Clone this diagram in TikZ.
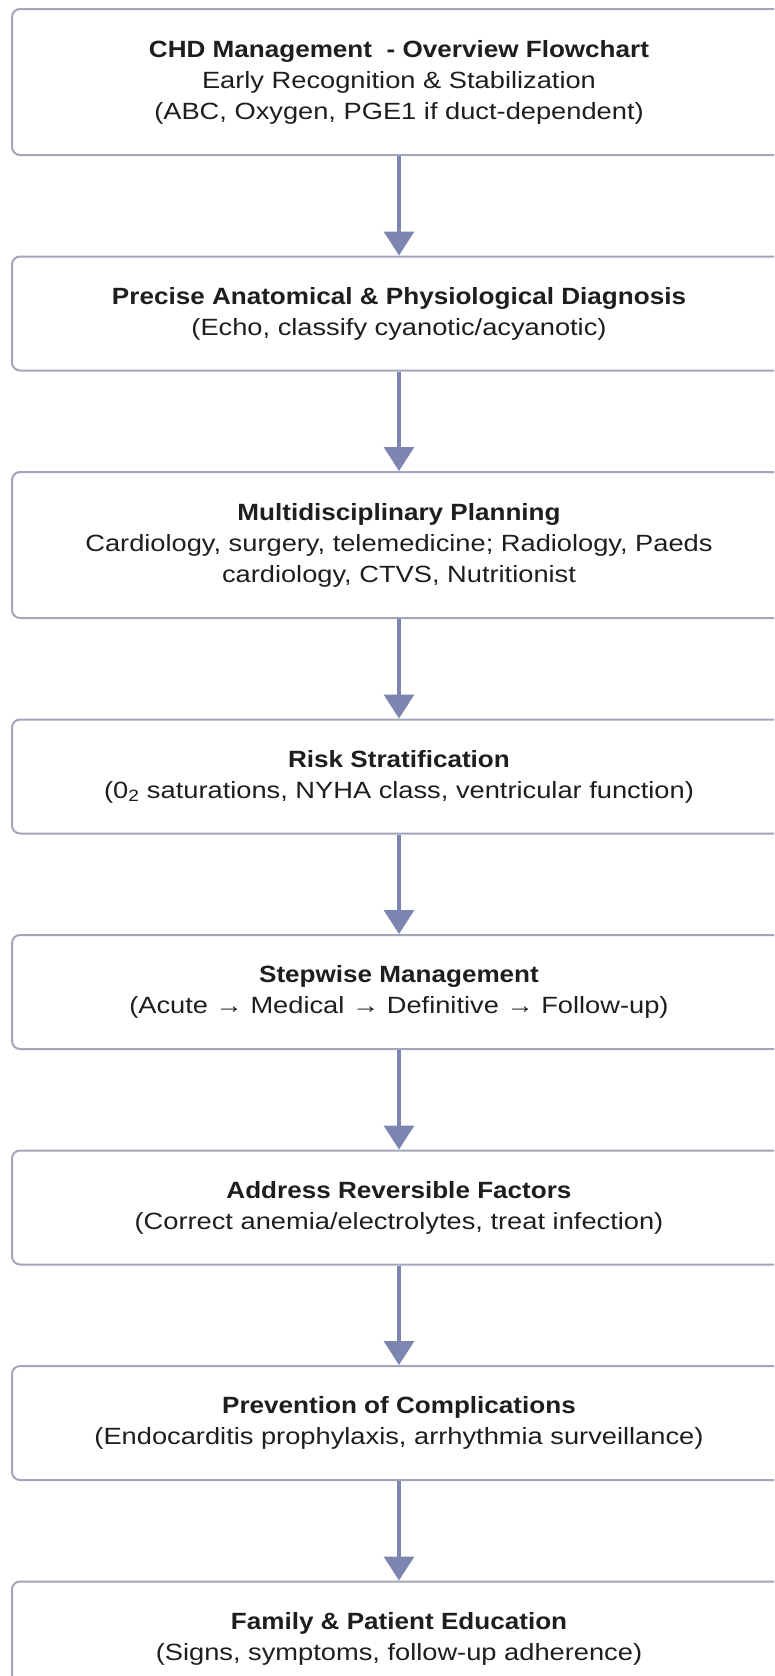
\documentclass[tikz,border=0pt]{standalone}
\usepackage{fontspec}
\setmainfont{Liberation Sans}[FakeStretch=1.16,BoldFeatures={FakeStretch=1.11}]
\usetikzlibrary{positioning,arrows.meta}

\definecolor{boxline}{HTML}{A3A6BA}
\definecolor{flowarrow}{HTML}{7D85B1}
\definecolor{boxtext}{HTML}{1E1E1E}

\begin{document}
\begin{tikzpicture}[x=1pt,y=1pt,>={Triangle[width=30pt,length=24pt]},
    stage/.style={draw=boxline,line width=2pt,rounded corners=8pt,fill=white,
        minimum width=774pt,minimum height=114pt,align=center,text=boxtext,
        font=\fontsize{23.5}{31}\selectfont},
    tall/.style={minimum height=146pt},
    flow/.style={->,draw=flowarrow,line width=3.3pt},
    node distance=99.5pt]
    \clip (0,0) rectangle (774,-1676);

    \node[stage,tall] (recog) at (399,-82) {\textbf{CHD Management\ \ - Overview Flowchart}\\Early Recognition \& Stabilization\\(ABC, Oxygen, PGE1 if duct-dependent)};
    \node[stage,below=of recog] (diag) {\textbf{Precise Anatomical \& Physiological Diagnosis}\\(Echo, classify cyanotic/acyanotic)};
    \node[stage,tall,below=of diag] (plan) {\textbf{Multidisciplinary Planning}\\Cardiology, surgery, telemedicine; Radiology, Paeds\\cardiology, CTVS, Nutritionist};
    \node[stage,below=of plan] (risk) {\textbf{Risk Stratification}\\(0\textsubscript{2} saturations, NYHA class, ventricular function)};
    \node[stage,below=of risk] (steps) {\textbf{Stepwise Management}\\(Acute → Medical → Definitive → Follow-up)};
    \node[stage,below=of steps] (revers) {\textbf{Address Reversible Factors}\\(Correct anemia/electrolytes, treat infection)};
    \node[stage,below=of revers] (prevent) {\textbf{Prevention of Complications}\\(Endocarditis prophylaxis, arrhythmia surveillance)};
    \node[stage,below=of prevent] (educ) {\textbf{Family \& Patient Education}\\(Signs, symptoms, follow-up adherence)};

    \draw[flow] (recog) -- (diag);
    \draw[flow] (diag) -- (plan);
    \draw[flow] (plan) -- (risk);
    \draw[flow] (risk) -- (steps);
    \draw[flow] (steps) -- (revers);
    \draw[flow] (revers) -- (prevent);
    \draw[flow] (prevent) -- (educ);
\end{tikzpicture}
\end{document}
